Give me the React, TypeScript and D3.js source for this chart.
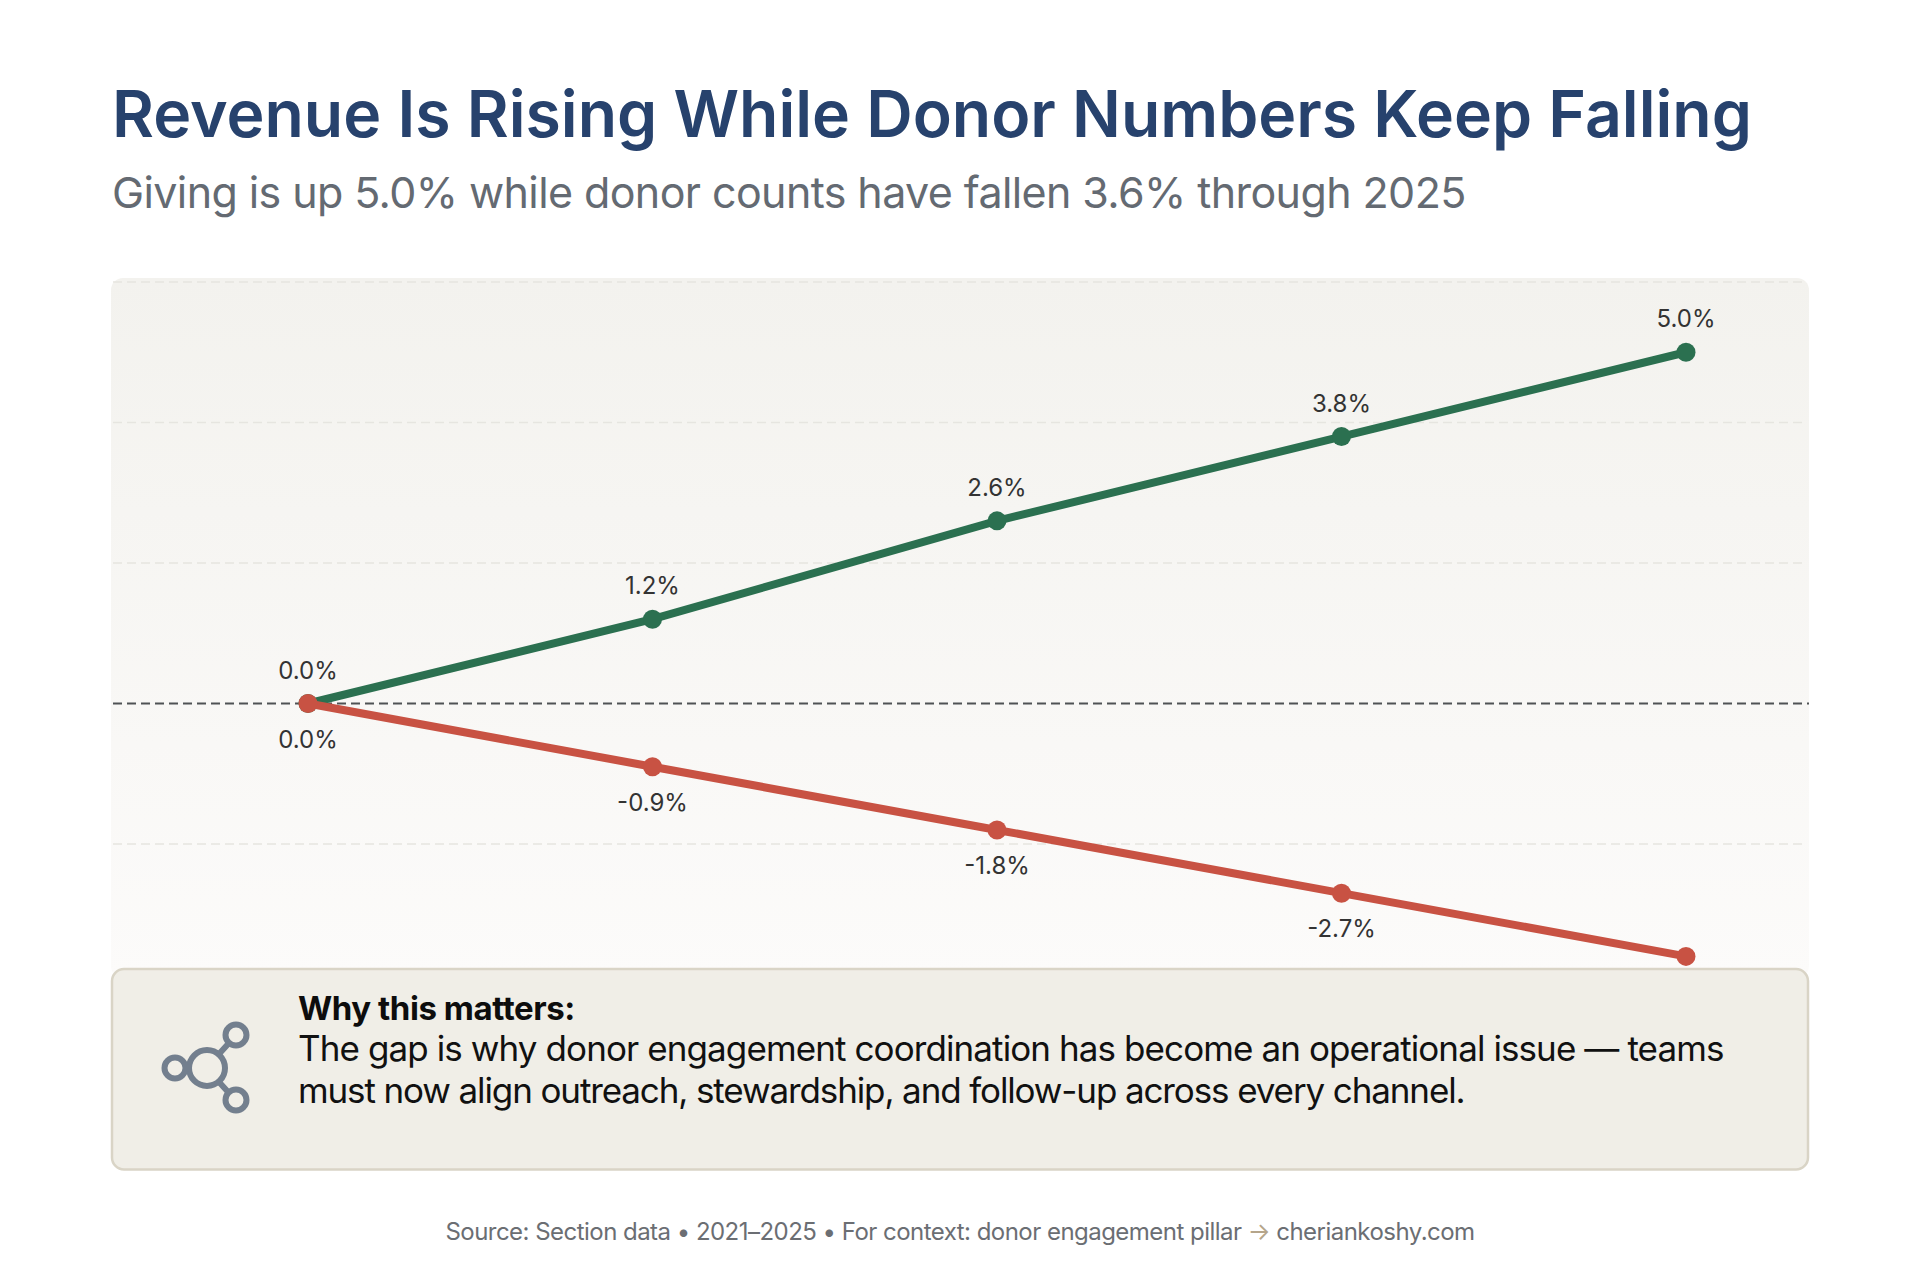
import React from 'react';
import * as d3 from 'd3';

const years = [2021, 2022, 2023, 2024, 2025];
const revenueChange = [0, 1.2, 2.6, 3.8, 5.0];
const donorChange = [0, -0.9, -1.8, -2.7, -3.6];
const gridValues = [6, 4, 2, -2];

const title = 'Revenue Is Rising While Donor Numbers Keep Falling';
const subtitle = 'Giving is up 5.0% while donor counts have fallen 3.6% through 2025';
const calloutHead = 'Why this matters:';
const calloutLines = [
  'The gap is why donor engagement coordination has become an operational issue — teams',
  'must now align outreach, stewardship, and follow-up across every channel.',
];

const FONT = 'Inter, "Noto Sans", sans-serif';
const GREEN = '#2b7050';
const RED = '#c85243';

const x = d3.scalePoint<number>().domain(years).range([308, 1686]);
const y = d3.scaleLinear().domain([-4, 6]).range([984.5, 282]);
const fmt = (v: number) => `${v.toFixed(1)}%`;

const App: React.FC = () => {
  const line = d3
    .line<number>()
    .x((_, i) => x(years[i]) as number)
    .y((d) => y(d));

  const series = [
    { values: revenueChange, color: GREEN, dy: -25 },
    { values: donorChange, color: RED, dy: 44 },
  ];

  return (
    <svg
      width={1920}
      height={1280}
      style={{ position: 'absolute', left: 0, top: 0, background: '#fff' }}
      fontFamily={FONT}
    >
      <defs>
        <linearGradient id="panel" x1="0" y1="0" x2="0" y2="1">
          <stop offset="0" stopColor="#f3f2ee" />
          <stop offset="1" stopColor="#fcfbfa" />
        </linearGradient>
      </defs>

      <text x={112} y={137} fontSize={64.3} fontWeight={600} fill="#27426d">
        {title}
      </text>
      <text x={112} y={208} fontSize={43} letterSpacing={-0.6} fill="#646a72">
        {subtitle}
      </text>

      <rect x={111} y={278} width={1698} height={700} rx={12} fill="url(#panel)" />

      {gridValues.map((v) => (
        <line
          key={v}
          x1={113}
          x2={1807}
          y1={y(v)}
          y2={y(v)}
          stroke="#e6e5e0"
          strokeWidth={1.5}
          strokeDasharray="9 5"
        />
      ))}
      <line
        x1={113}
        x2={1809}
        y1={y(0)}
        y2={y(0)}
        stroke="#4f5254"
        strokeWidth={2}
        strokeDasharray="9 5"
      />

      {series.map((s) => (
        <g key={s.color}>
          <path d={line(s.values) as string} fill="none" stroke={s.color} strokeWidth={8} />
          {s.values.map((v, i) => (
            <circle key={years[i]} cx={x(years[i])} cy={y(v)} r={9.5} fill={s.color} />
          ))}
          {s.values.map((v, i) =>
            // the last donor point has no label in the original
            s.color === RED && i === s.values.length - 1 ? null : (
              <text
                key={years[i]}
                x={x(years[i])}
                y={y(v) + s.dy}
                fontSize={24}
                textAnchor="middle"
                fill="#333333"
              >
                {fmt(v)}
              </text>
            ),
          )}
        </g>
      ))}

      <rect
        x={112}
        y={969}
        width={1696}
        height={200.5}
        rx={12}
        fill="#f0eee7"
        stroke="#d9d4c6"
        strokeWidth={2.5}
      />

      <g fill="none" stroke="#737f8e" strokeWidth={6}>
        <circle cx={207} cy={1068} r={18} />
        <circle cx={175} cy={1068} r={10.5} />
        <circle cx={236} cy={1035} r={10.5} />
        <circle cx={236} cy={1100} r={10.5} />
        <path d="M185 1068H190M219 1054L229 1043M219 1082L229 1093" />
      </g>

      <text x={298} y={1020} fontSize={33} fontWeight={700} letterSpacing={-0.45} fill="#0d0d0d">
        {calloutHead}
      </text>
      {calloutLines.map((t, i) => (
        <text
          key={t}
          x={298}
          y={1061 + i * 42}
          fontSize={35}
          letterSpacing={i === 0 ? -0.9 : -1.12}
          fill="#111111"
        >
          {t}
        </text>
      ))}

      <text x={960} y={1240} fontSize={24} letterSpacing={-0.53} textAnchor="middle" fill="#6b6e73">
        Source: Section data • 2021–2025 • For context: donor engagement pillar{' '}
        <tspan fill="#b5a58a">→</tspan> cheriankoshy.com
      </text>
    </svg>
  );
};

export default App;
